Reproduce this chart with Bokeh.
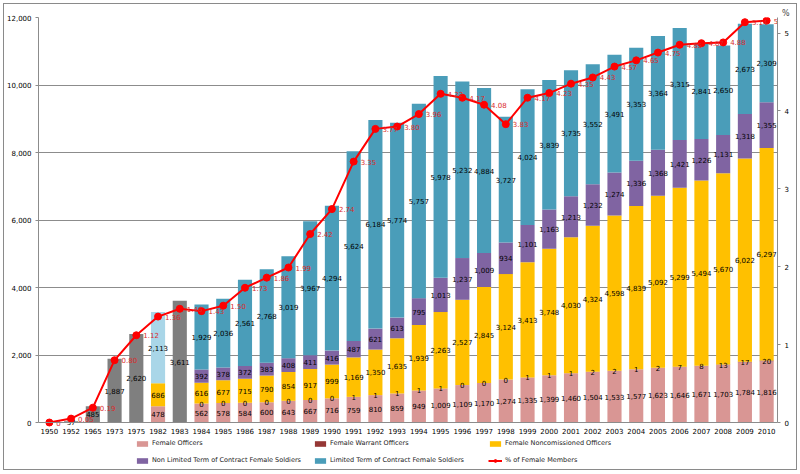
import numpy as np
from bokeh.plotting import figure
from bokeh.models import (FactorRange, Range1d, LinearAxis, FixedTicker, NumeralTickFormatter,
                          ColumnDataSource, Legend, LegendItem, CategoricalAxis)
from bokeh.core.properties import value
from bokeh.embed import file_html
from bokeh.resources import INLINE

years = ["1950", "1952", "1965", "1973", "1975", "1982", "1983"] + [str(y) for y in range(1984, 2011)]

total_only = [0, 37, 485, 1887, 2620, None, 3611] + [None] * 27
officers = [None] * 5 + [478, None] + [562, 578, 584, 600, 643, 667, 716, 759, 810, 859, 949, 1009, 1109,
                                       1170, 1274, 1335, 1399, 1460, 1504, 1533, 1577, 1623, 1646, 1671,
                                       1703, 1784, 1816]
warrant = [None] * 7 + [0, 0, 0, 0, 0, 0, 0, 1, 1, 1, 1, 1, 0, 0, 0, 1, 1, 1, 2, 2, 1, 2, 7, 8, 13, 17, 20]
ncos = [None] * 5 + [686, None] + [616, 677, 715, 790, 854, 917, 999, 1169, 1350, 1635, 1939, 2263, 2527,
                                   2845, 3124, 3413, 3748, 4030, 4324, 4598, 4839, 5092, 5299, 5494, 5670,
                                   6022, 6297]
nonlimited = [None] * 7 + [392, 378, 372, 383, 408, 411, 416, 487, 621, 613, 795, 1013, 1237, 1009, 934,
                           1101, 1163, 1213, 1232, 1274, 1336, 1368, 1421, 1226, 1131, 1318, 1355]
limited = [None] * 5 + [2113, None] + [1929, 2036, 2561, 2768, 3019, 3967, 4294, 5624, 6184, 5774, 5757,
                                       5978, 5232, 4884, 3727, 4024, 3839, 3735, 3552, 3491, 3353, 3364,
                                       3315, 2841, 2650, 2673, 2309]
pct = [0, 0.05, 0.19, 0.80, 1.12, 1.36, 1.46, 1.43, 1.50, 1.73, 1.86, 1.99, 2.42, 2.74, 3.35, 3.77, 3.80,
       3.96, 4.22, 4.17, 4.08, 3.83, 4.17, 4.23, 4.35, 4.43, 4.57, 4.65, 4.75, 4.85, 4.87, 4.88, 5.14, 5.16]

FONT = "DejaVu Sans"
FS = "7px"

YMAX, PMAX = 12000, 5.2
PLOT_PX, BELOW_PX = 405, 48          # plot height above the zero line, room below it
YMIN = -YMAX * BELOW_PX / PLOT_PX
PMIN = -PMAX * BELOW_PX / PLOT_PX


def arr(a):
    return np.array([np.nan if v is None else v for v in a], dtype=float)


def fmt(v):
    return "" if np.isnan(v) else f"{int(round(v)):,}"


p = figure(width=794, height=467, x_range=FactorRange(*years, range_padding=0),
           y_range=Range1d(YMIN, YMAX), output_backend="svg", toolbar_location=None,
           x_axis_location=None,
           min_border_left=33, min_border_top=13, min_border_right=21, min_border_bottom=1)
p.styles = {"border": "1px solid #8a8a8a", "margin-left": "3px", "margin-top": "3px"}
p.extra_y_ranges = {"pct": Range1d(PMIN, PMAX)}
p.outline_line_color = None
p.background_fill_color = "white"

p.title.text = "%"
p.title.align = "right"
p.title.offset = -12
p.title.text_font = FONT
p.title.text_font_size = "8px"
p.title.text_font_style = "normal"
p.title.standoff = 0

BW = 0.65
T = arr(total_only)
src_t = ColumnDataSource(dict(x=years, top=np.nan_to_num(T), mid=np.nan_to_num(T) / 2,
                              lab=[fmt(v) for v in T]))
p.vbar(x="x", top="top", bottom=0, width=BW, source=src_t, fill_color="#7F7F7F", line_color=None)

series = [("Female Officers", officers, "#D99694"),
          ("Female Warrant Officers", warrant, "#953735"),
          ("Female Noncomissioned Officers", ncos, "#FFC000"),
          ("Non Limited Term of Contract Female Soldiers", nonlimited, "#8064A2"),
          ("Limited Term of Contract Female Soldiers", limited, "#4A9DB9")]

base = np.zeros(len(years))
renderers = {}
label_sources = [src_t]
for name, vals, col in series:
    v = arr(vals)
    vv = np.nan_to_num(v)
    bottom = base.copy()
    top = base + vv
    colors = [col] * len(years)
    if name.startswith("Limited"):
        colors[years.index("1982")] = "#A9D6E8"
    src = ColumnDataSource(dict(x=years, bottom=bottom, top=top, mid=(bottom + top) / 2,
                                lab=[fmt(a) for a in v], color=colors))
    r = p.vbar(x="x", top="top", bottom="bottom", width=BW, source=src, fill_color="color",
               line_color=None)
    renderers[name] = r
    label_sources.append(src)
    base = top

for src in label_sources:
    p.text(x="x", y="mid", text="lab", source=src, text_align="center", text_baseline="middle",
           text_font=value(FONT), text_font_size=value(FS), text_color="#000000")

pct_lab = ["0" if v == 0 else f"{v:.2f}" for v in pct]
src_p = ColumnDataSource(dict(x=years, y=pct, lab=pct_lab))
rl = p.line(x="x", y="y", source=src_p, y_range_name="pct", line_color="#FF0000", line_width=2)
rs = p.scatter(x="x", y="y", source=src_p, y_range_name="pct", size=7, marker="circle",
               fill_color="#FF0000", line_color="#FF0000")
p.text(x="x", y="y", text="lab", source=src_p, y_range_name="pct", x_offset=7,
       text_baseline="middle", text_font=value(FONT), text_font_size=value(FS), text_color="#D92B2B")

GRID = "#8c8c8c"
p.yaxis.ticker = FixedTicker(ticks=list(range(0, 12001, 2000)))
p.yaxis.formatter = NumeralTickFormatter(format="0,0")
p.yaxis.bounds = (0, YMAX)
p.ygrid.grid_line_color = GRID
p.xgrid.grid_line_color = None
right = LinearAxis(y_range_name="pct", ticker=FixedTicker(ticks=[0, 1, 2, 3, 4, 5]), bounds=(0, PMAX))
p.add_layout(right, "right")

xax = CategoricalAxis(fixed_location=0)
p.add_layout(xax, "below")

for ax in [p.yaxis[0], right, xax]:
    ax.axis_line_color = GRID
    ax.major_tick_line_color = GRID
    ax.minor_tick_line_color = None
    ax.major_tick_out = 3
    ax.major_tick_in = 0
    ax.major_label_text_font = FONT
    ax.major_label_text_font_size = FS
    ax.major_label_text_color = "#000000"
    ax.major_label_standoff = 4
xax.major_tick_line_color = None
xax.major_tick_out = 0
xax.major_label_standoff = 5

cols = [(97, ["Female Officers", "Non Limited Term of Contract Female Soldiers"]),
        (275, ["Female Warrant Officers", "Limited Term of Contract Female Soldiers"]),
        (450, ["Female Noncomissioned Officers", None])]
for xloc, names in cols:
    items = []
    for nm in names:
        if nm is None:
            items.append(LegendItem(label="% of Female Members", renderers=[rl, rs]))
        else:
            items.append(LegendItem(label=nm, renderers=[renderers[nm]]))
    leg = Legend(items=items, location=(xloc, 5), orientation="vertical", padding=0, margin=0,
                 spacing=7, glyph_width=14, glyph_height=7, label_height=10, label_standoff=3,
                 label_text_font=FONT, label_text_font_size="6.5px", label_text_color="#222222",
                 background_fill_alpha=0, border_line_color=None)
    p.add_layout(leg, "center")

open("out.html", "w").write(file_html(p, INLINE))
